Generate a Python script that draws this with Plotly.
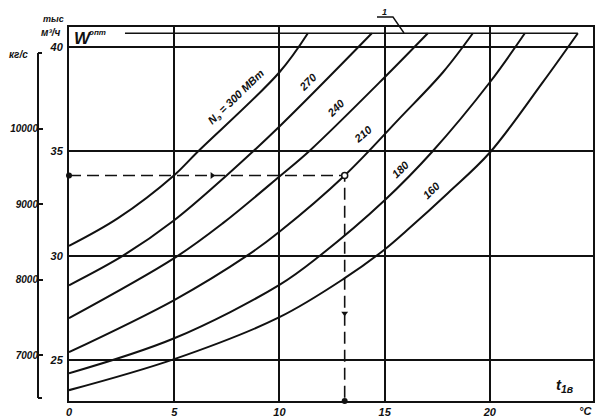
import plotly.graph_objects as go

# ---- data (t1v in degC, W in thousand m3/h) ----
power_labels = ["300", "270", "240", "210", "180", "160"]

t_300 = [0, 2.33, 5, 6.08, 10, 11.35]
W_300 = [30.47, 31.8, 33.86, 34.95, 38.8, 40.67]

t_270 = [0, 2.57, 5, 7.5, 10, 14.39]
W_270 = [28.58, 30.0, 31.7, 33.86, 36.2, 40.67]

t_240 = [0, 5, 7.3, 10, 11.45, 15, 17.05]
W_240 = [27.0, 29.88, 31.55, 33.8, 35.05, 38.56, 40.67]

t_210 = [0, 5, 8.46, 10, 13.1, 15.72, 17.77, 19.19]
W_210 = [25.37, 27.87, 30.0, 31.15, 33.85, 36.6, 38.8, 40.67]

t_180 = [0, 5, 10, 11.92, 15, 17.27, 20, 21.66]
W_180 = [24.36, 26.04, 28.6, 30.0, 32.66, 35.0, 38.32, 40.67]

t_160 = [0, 5, 10, 13.1, 15, 16.06, 18, 20, 22.5, 24.18]
W_160 = [23.55, 25.04, 27.05, 28.92, 30.3, 31.22, 33.0, 34.95, 38.3, 40.67]

# line 1: W_opt
W_opt = 40.67
t_opt = [2.66, 24.18]

# worked example (dashed)
t_example = 13.1
W_example = 33.85

x_ticks = [0, 5, 10, 15, 20]
y_ticks = [25, 30, 35, 40]
kg_ticks = [7000, 8000, 9000, 10000]
kg_text = ["7000", "8000", "9000", "10000"]

# curve label positions / angles (layout only)
label_pos = [(7.98, 37.6, -44, "N<sub>э</sub> = 300 МВт"), (11.35, 38.32, -45, "270"),
             (12.68, 37.07, -45, "240"), (13.97, 35.83, -40, "210"),
             (15.77, 34.15, -45, "180"), (17.24, 33.14, -45, "160")]

curves = [(t_300, W_300), (t_270, W_270), (t_240, W_240),
          (t_210, W_210), (t_180, W_180), (t_160, W_160)]

INK = "#111111"
FONT = dict(family="Liberation Sans", size=11, color=INK, style="italic", weight="bold")

# ---- geometry ----
Y_RANGE = [23.03, 40.97]
X_RANGE = [0, 24.9]
W10, slope = 36.09, 3.621
kg_range = [10000 + (Y_RANGE[0] - W10) / slope * 1000, 10000 + (Y_RANGE[1] - W10) / slope * 1000]

fig = go.Figure()
for (t, w) in curves:
    fig.add_trace(go.Scatter(x=t, y=w, mode="lines", line=dict(color=INK, width=2, shape="spline", smoothing=1.0),
                             showlegend=False, hoverinfo="skip"))

fig.add_trace(go.Scatter(x=t_opt, y=[W_opt, W_opt], mode="lines", line=dict(color=INK, width=1.6),
                         showlegend=False, hoverinfo="skip"))

fig.add_trace(go.Scatter(x=[0, t_example, t_example], y=[W_example, W_example, Y_RANGE[0]], mode="lines",
                         line=dict(color=INK, width=1.6, dash="12px,6px"), showlegend=False, hoverinfo="skip"))
fig.add_trace(go.Scatter(x=[0, t_example], y=[W_example, Y_RANGE[0]], mode="markers",
                         marker=dict(color=INK, size=6), showlegend=False, cliponaxis=False, hoverinfo="skip"))
fig.add_trace(go.Scatter(x=[t_example], y=[W_example], mode="markers",
                         marker=dict(color="white", size=6, line=dict(color=INK, width=1.5)), showlegend=False,
                         hoverinfo="skip"))
fig.add_trace(go.Scatter(x=[6.8], y=[W_example], mode="markers", marker=dict(symbol="triangle-right", color=INK, size=6),
                         showlegend=False, hoverinfo="skip"))
fig.add_trace(go.Scatter(x=[t_example], y=[27.24], mode="markers", marker=dict(symbol="triangle-down", color=INK, size=6),
                         showlegend=False, hoverinfo="skip"))

fig.add_trace(go.Scatter(x=[0], y=[8000], yaxis="y2", mode="markers", marker=dict(opacity=0),
                         showlegend=False, hoverinfo="skip"))

# plot area in window pixels; page body has an 8px margin
BODY = 8
PLOT_L, PLOT_R, PLOT_T, PLOT_B = 10, 593, 27, 401
W_PX = PLOT_R - PLOT_L
H_PX = PLOT_B - PLOT_T

def px(xp):
    return (xp - PLOT_L) / W_PX

def py(yp):
    return (PLOT_B - yp) / H_PX

x_dom0 = px(69)

fig.update_layout(
    width=603 - BODY, height=420 - BODY,
    margin=dict(l=PLOT_L - BODY, r=603 - PLOT_R, t=PLOT_T - BODY, b=420 - PLOT_B),
    paper_bgcolor="white", plot_bgcolor="white",
    font=FONT,
    xaxis=dict(domain=[x_dom0, 1], range=X_RANGE, tickvals=x_ticks, showgrid=True, gridcolor=INK, gridwidth=1.5,
               zeroline=False, showline=True, mirror=True, linecolor=INK, linewidth=2, ticks="", tickfont=FONT,
               automargin=False),
    yaxis=dict(range=Y_RANGE, tickvals=y_ticks, showgrid=True, gridcolor=INK, gridwidth=1.5, zeroline=False,
               showline=True, mirror=True, linecolor=INK, linewidth=2, ticks="", tickfont=FONT, ticklabelstandoff=2,
               automargin=False),
    yaxis2=dict(overlaying="y", anchor="free", position=px(38), side="left", range=kg_range, tickvals=kg_ticks,
                ticktext=kg_text, showgrid=False, zeroline=False, showline=False, ticks="inside", ticklen=4,
                tickwidth=2, tickcolor=INK, tickfont=dict(FONT, size=10), automargin=False),
)

fig.add_shape(type="line", xref="paper", yref="paper", x0=px(38), x1=px(38), y0=py(53), y1=py(398),
              line=dict(color=INK, width=2))
fig.add_shape(type="line", xref="paper", yref="paper", x0=px(38), x1=px(42), y0=py(53), y1=py(53),
              line=dict(color=INK, width=2))
fig.add_shape(type="line", xref="paper", yref="paper", x0=px(38), x1=px(42), y0=py(398), y1=py(398),
              line=dict(color=INK, width=2))

fig.add_shape(type="path", xref="paper", yref="paper",
              path=f"M {px(377)} {py(17)} L {px(393)} {py(17)} L {px(404)} {py(33)}",
              line=dict(color=INK, width=1.4))

ann = []
for (x, y, ang, txt) in label_pos:
    ann.append(dict(x=x, y=y, xref="x", yref="y", text=txt, textangle=ang, showarrow=False, font=dict(FONT, size=11)))

def pann(xp, yp, text, size, xanchor="center"):
    return dict(x=px(xp), y=py(yp), xref="paper", yref="paper", text=text, showarrow=False,
                xanchor=xanchor, yanchor="middle", font=dict(FONT, size=size))

ann += [
    pann(53, 19, "тыс", 9),
    pann(51, 32, "м³/ч", 10),
    pann(18, 55, "кг/с", 10),
    pann(72, 38, "W", 17, "left"),
    pann(87, 32, "опт", 8, "left"),
    pann(384, 12, "1", 9),
    pann(565, 385, "t<sub>1в</sub>", 15),
    pann(585, 411, "°C", 11),
]
fig.update_layout(annotations=ann)

fig.write_html("out.html")
